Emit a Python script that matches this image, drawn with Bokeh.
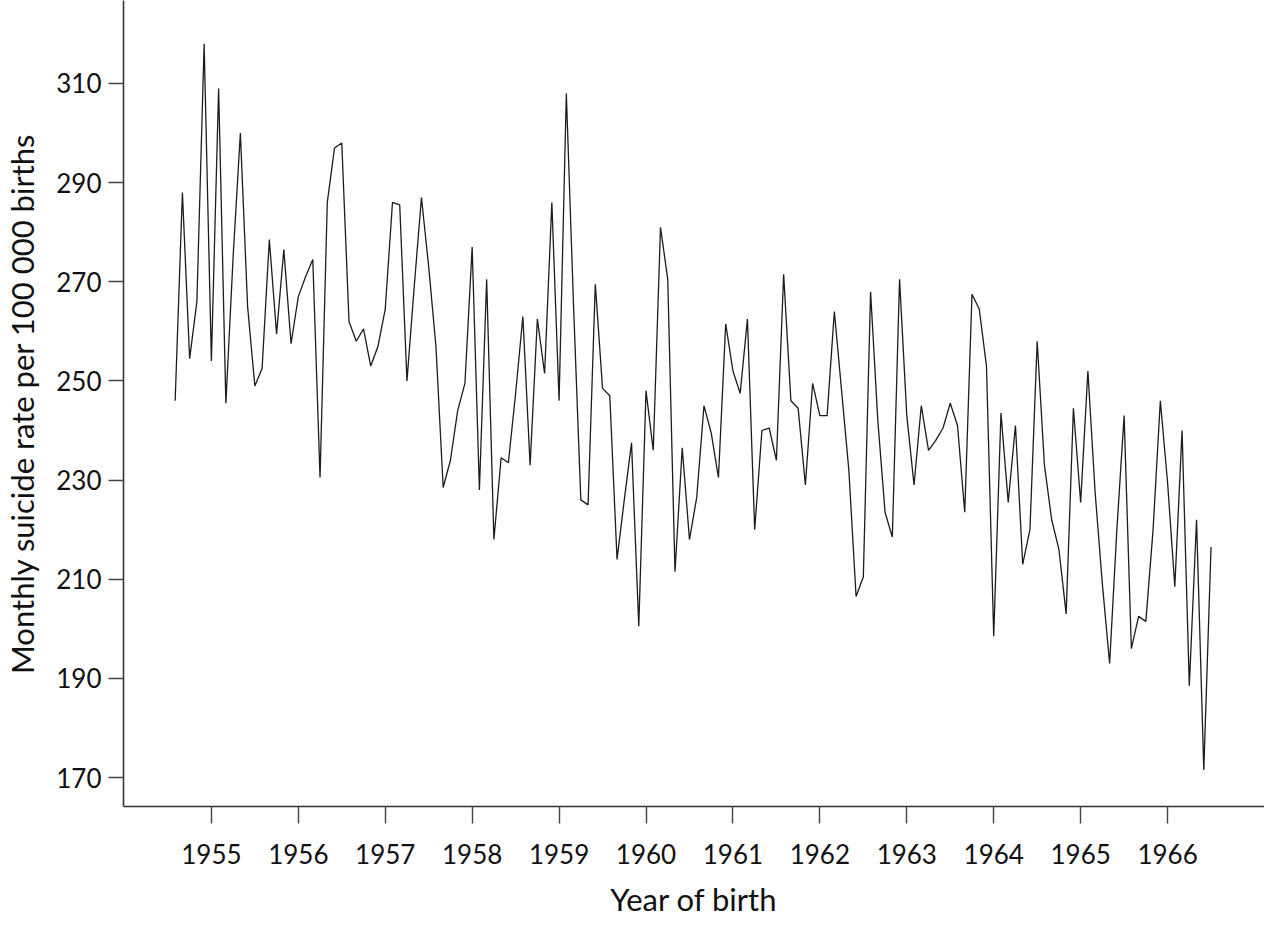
from bokeh.plotting import figure
from bokeh.models import FixedTicker, Range1d
from bokeh.embed import file_html
from bokeh.resources import INLINE

# Monthly series: first month August 1954, last month July 1966
first_year = 1954
first_month = 8
rate = [
    246, 288, 254.5, 266, 318, 254, 309, 245.5, 275, 300, 265, 249,
    252.5, 278.5, 259.5, 276.5, 257.5, 267, 271, 274.5, 230.5, 286, 297, 298,
    262, 258, 260.5, 253, 257, 264.5, 286, 285.5, 250, 269, 287, 273,
    257, 228.5, 234, 244, 249.5, 277, 228, 270.5, 218, 234.5, 233.5, 247.5,
    263, 233, 262.5, 251.5, 286, 246, 308, 265, 226, 225, 269.5, 248.5,
    247, 214, 226, 237.5, 200.5, 248, 236, 281, 270.5, 211.5, 236.5, 218,
    226.5, 245, 239.5, 230.5, 261.5, 252, 247.5, 262.5, 220, 240, 240.5, 234,
    271.5, 246, 244.5, 229, 249.5, 243, 243, 264, 248, 232, 206.5, 210.5,
    268, 242, 223.5, 218.5, 270.5, 243, 229, 245, 236, 238, 240.5, 245.5,
    241, 223.5, 267.5, 264.5, 253, 198.5, 243.5, 225.5, 241, 213, 220, 258,
    233, 222, 216, 203, 244.5, 225.5, 252, 227.5, 209, 193, 220, 243,
    196, 202.5, 201.5, 220, 246, 229.5, 208.5, 240, 188.5, 222, 171.5, 216.5,
]
year_ticks = [1955, 1956, 1957, 1958, 1959, 1960, 1961, 1962, 1963, 1964, 1965, 1966]
rate_ticks = [170, 190, 210, 230, 250, 270, 290, 310]

t = [first_year + (first_month - 1 + i) / 12 for i in range(len(rate))]

FONT = "Lato"
p = figure(width=1264, height=925, output_backend="svg", toolbar_location=None,
           x_range=Range1d(1953.989, 1967.115), y_range=Range1d(164.15, 326.74),
           min_border_left=122, min_border_right=0, min_border_top=0,
           min_border_bottom=119)
p.outline_line_color = None
p.grid.visible = False
p.background_fill_color = "white"
p.border_fill_color = "white"

p.line(t, rate, line_color="#1c1c1c", line_width=1.3)

for ax in (p.xaxis[0], p.yaxis[0]):
    ax.axis_line_color = "#333333"
    ax.axis_line_width = 1.6
    ax.major_tick_line_color = "#444444"
    ax.major_tick_line_width = 1.4
    ax.major_tick_in = 0
    ax.minor_tick_out = 0
    ax.minor_tick_in = 0
    ax.major_label_text_font = FONT
    ax.major_label_text_font_size = "26px"
    ax.major_label_text_color = "#111111"
    ax.axis_label_text_font = FONT
    ax.axis_label_text_font_style = "normal"
    ax.axis_label_text_font_size = "31px"
    ax.axis_label_text_color = "#111111"

p.xaxis.ticker = FixedTicker(ticks=year_ticks)
p.xaxis.major_tick_out = 17
p.xaxis.major_label_standoff = 20
p.xaxis.axis_label = "Year of birth"
p.xaxis.axis_label_standoff = 13

p.yaxis.ticker = FixedTicker(ticks=rate_ticks)
p.yaxis.major_tick_out = 15
p.yaxis.major_label_standoff = 7
p.yaxis.axis_label = "Monthly suicide rate per 100 000 births"
p.yaxis.axis_label_standoff = 12

open("out.html", "w").write(file_html(p, INLINE))
